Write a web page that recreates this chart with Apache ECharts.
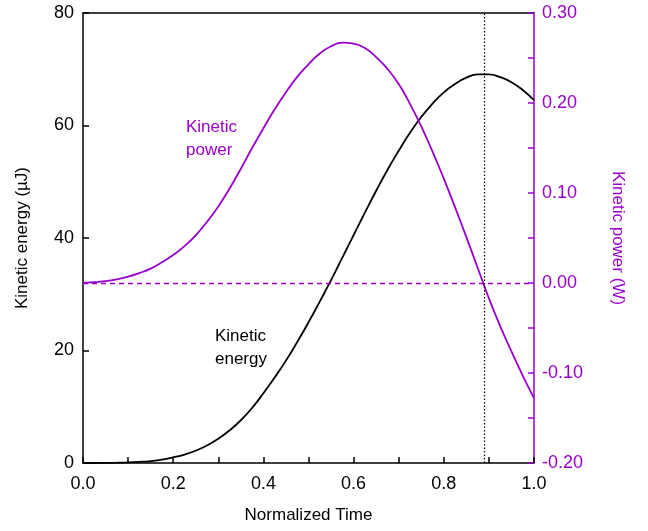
<!DOCTYPE html>
<html>
<head>
<meta charset="utf-8">
<script src="https://cdn.jsdelivr.net/npm/echarts@6/dist/echarts.min.js"></script>
<style>
  html, body { margin: 0; padding: 0; background: #fff; }
  #chart { width: 648px; height: 531px; }
</style>
</head>
<body>
<div id="chart"></div>
<script>
var purple = '#9a00cc';
var font = 'Liberation Sans';

// normalized time, step 0.025
var times = [0, 0.025, 0.05, 0.075, 0.1, 0.125, 0.15, 0.175, 0.2, 0.225,
    0.25, 0.275, 0.3, 0.325, 0.35, 0.375, 0.4, 0.425, 0.45, 0.475,
    0.5, 0.525, 0.55, 0.575, 0.6, 0.625, 0.65, 0.675, 0.7, 0.725,
    0.75, 0.775, 0.8, 0.825, 0.85, 0.875, 0.9, 0.925, 0.95, 0.975, 1.0];
// kinetic energy (uJ)
var energy = [0, 0, 0.02, 0.05, 0.1, 0.2, 0.35, 0.6, 1.0, 1.5,
    2.2, 3.1, 4.3, 5.8, 7.6, 9.8, 12.4, 15.2, 18.2, 21.5,
    25.0, 28.7, 32.5, 36.5, 40.5, 44.5, 48.4, 52.1, 55.5, 58.7,
    61.5, 63.9, 65.9, 67.4, 68.5, 69.1, 69.1, 68.6, 67.7, 66.3, 64.5];
// kinetic power (W)
var power = [0, 0.001, 0.002, 0.004, 0.007, 0.011, 0.016, 0.023, 0.031, 0.041,
    0.053, 0.068, 0.085, 0.105, 0.127, 0.150, 0.172, 0.193, 0.212, 0.229,
    0.243, 0.255, 0.263, 0.267, 0.266, 0.261, 0.251, 0.238, 0.221, 0.199,
    0.174, 0.146, 0.116, 0.084, 0.051, 0.017, -0.017, -0.048, -0.076, -0.103, -0.128];
var peakTime = 0.885;

var energyData = [];
var powerData = [];
for (var i = 0; i < times.length; i++) {
    energyData.push([times[i], energy[i]]);
    powerData.push([times[i], power[i]]);
}

var myChart = echarts.init(document.getElementById('chart'));
var option = {
    animation: false,
    textStyle: { fontFamily: font },
    grid: { left: 83, right: 114, top: 13, bottom: 68 },
    xAxis: [{
        type: 'value',
        min: 0, max: 1, interval: 0.2,
        name: 'Normalized Time',
        nameLocation: 'middle',
        nameGap: 44,
        nameTextStyle: { color: '#000', fontSize: 17, fontFamily: font },
        axisLine: { onZero: false, lineStyle: { color: '#000', width: 1.5 } },
        axisTick: { inside: true, length: 6, lineStyle: { color: '#000', width: 1.5 } },
        minorTick: { show: true, splitNumber: 2, length: 6, lineStyle: { color: '#000', width: 1.5 } },
        axisLabel: { color: '#000', fontSize: 18, margin: 12, formatter: function (v) { return v.toFixed(1); } },
        splitLine: { show: false }
    }, {
        type: 'value',
        position: 'top',
        min: 0, max: 1,
        axisLine: { show: true, onZero: false, lineStyle: { color: '#000', width: 1.5 } },
        axisTick: { show: false },
        axisLabel: { show: false },
        splitLine: { show: false }
    }],
    yAxis: [{
        type: 'value',
        min: 0, max: 80, interval: 20,
        name: 'Kinetic energy (\u00b5J)',
        nameLocation: 'middle',
        nameGap: 52,
        nameTextStyle: { color: '#000', fontSize: 17, fontFamily: font },
        axisLine: { show: true, onZero: false, lineStyle: { color: '#000', width: 1.5 } },
        axisTick: { inside: true, length: 6, lineStyle: { color: '#000', width: 1.5 } },
        axisLabel: { color: '#000', fontSize: 18, margin: 9 },
        splitLine: { show: false }
    }, {
        type: 'value',
        position: 'right',
        min: -0.2, max: 0.3, interval: 0.1,
        name: 'Kinetic power (W)',
        nameLocation: 'middle',
        nameRotate: -90,
        nameGap: 75,
        nameTextStyle: { color: purple, fontSize: 17, fontFamily: font },
        axisLine: { show: true, onZero: false, lineStyle: { color: purple, width: 1.5 } },
        axisTick: { inside: true, length: 6, lineStyle: { color: purple, width: 1.5 } },
        minorTick: { show: true, splitNumber: 2, length: 6, lineStyle: { color: purple, width: 1.5 } },
        axisLabel: { color: purple, fontSize: 18, margin: 8, formatter: function (v) { return v.toFixed(2); } },
        splitLine: { show: false }
    }],
    series: [{
        name: 'Kinetic energy',
        type: 'line',
        data: energyData,
        smooth: true,
        symbol: 'none',
        itemStyle: { color: '#000' },
        lineStyle: { color: '#000', width: 1.8 },
        z: 3,
        markLine: {
            silent: true,
            symbol: 'none',
            label: { show: false },
            lineStyle: { color: '#000', type: [1.5, 2], width: 1.2 },
            data: [{ xAxis: peakTime }]
        }
    }, {
        name: 'Kinetic power',
        type: 'line',
        yAxisIndex: 1,
        data: powerData,
        smooth: true,
        symbol: 'none',
        itemStyle: { color: purple },
        lineStyle: { color: purple, width: 1.8 },
        z: 3,
        markLine: {
            silent: true,
            symbol: 'none',
            label: { show: false },
            lineStyle: { color: purple, type: [5, 4], width: 1.3, opacity: 1 },
            data: [{ yAxis: 0, lineStyle: { color: purple } }]
        }
    }],
    graphic: [{
        type: 'text',
        left: 186, top: 116,
        style: { text: 'Kinetic\npower', fill: purple, font: '17px "Liberation Sans"', lineHeight: 23 }
    }, {
        type: 'text',
        left: 215, top: 325,
        style: { text: 'Kinetic\nenergy', fill: '#000', font: '17px "Liberation Sans"', lineHeight: 23 }
    }]
};
myChart.setOption(option);
</script>
</body>
</html>
